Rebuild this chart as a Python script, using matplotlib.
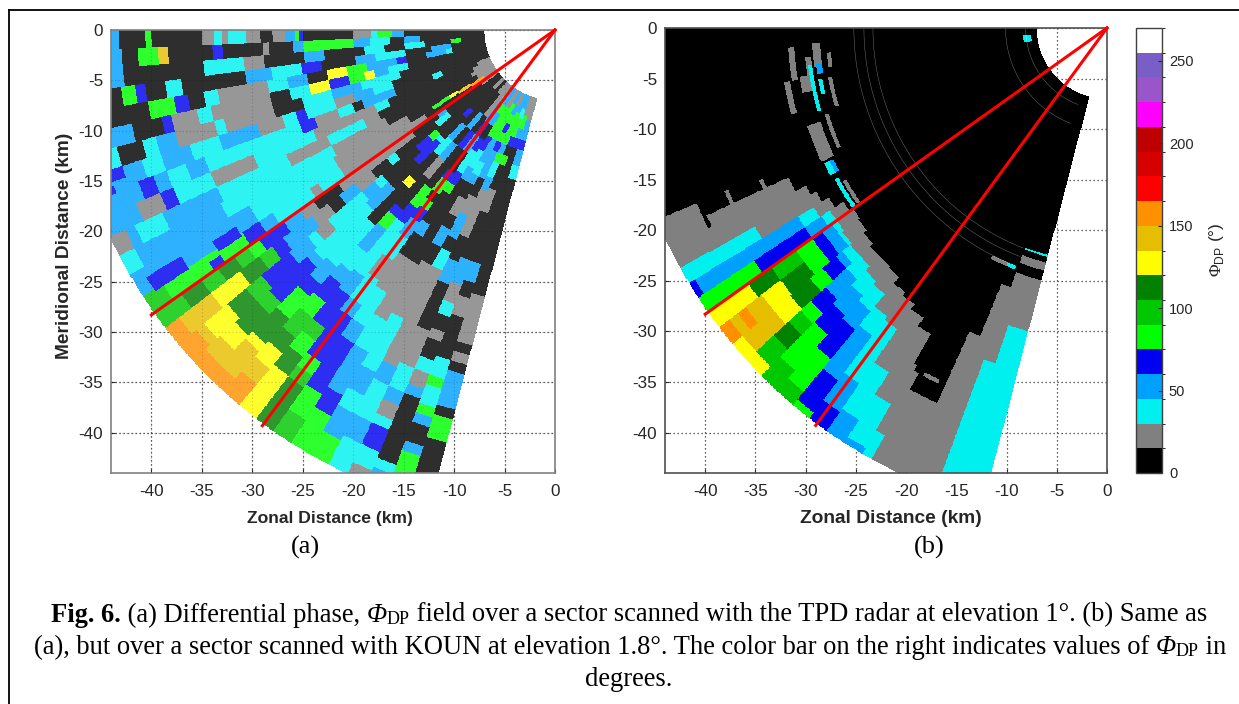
import numpy as np
import matplotlib
matplotlib.use('Agg')
import matplotlib.pyplot as plt
from matplotlib.colors import ListedColormap, BoundaryNorm, to_rgb
from matplotlib.lines import Line2D

plt.rcParams['font.family'] = ['Liberation Sans', 'DejaVu Sans']
plt.rcParams['axes.unicode_minus'] = False
plt.rcParams['mathtext.fontset'] = 'custom'
plt.rcParams['mathtext.rm'] = 'Liberation Serif'
plt.rcParams['mathtext.sf'] = 'Liberation Sans'

# color scale, one color per 15 deg class
phi_colors = ['#000000', '#808080', '#00F0F0', '#00A0FF', '#0000F0', '#00FF00', '#00C800',
              '#008200', '#FFFF00', '#E6BE00', '#FF9000', '#FF0000', '#D60000', '#BE0000',
              '#FF00FF', '#9955C9', '#795EC8', '#FFFFFF']
phi_bounds = np.arange(0, 271, 15)
phi_ticks = [0, 50, 100, 150, 200, 250]
dist_ticks = [-40, -35, -30, -25, -20, -15, -10, -5, 0]
dist_ticks_y = [0, -5, -10, -15, -20, -25, -30, -35, -40]

# sector limits (km, deg from west towards south)
r_inner = 7.0
r_outer = 48.6
az_max = 75.3

# red lines, end points of the sector boundaries
line_x = [[0, -40], [0, -29]]
line_y = [[0, -28.3], [0, -39.3]]

# panel a: azimuth edges, then for each azimuth (class, range where it ends)
az_edges_a = [0, 2.5, 5, 7.5, 10, 12.5, 15, 17.5, 20, 22.5, 25, 27.5, 30, 33, 35.3, 37.5, 40,
              42.5, 45, 47.5, 50, 52.5, 55, 57.5, 60, 62.5, 65, 67.5, 70, 72.5, 75.3]
runs_a = [
    [(0,15),(3,16.3),(5,17.7),(2,18.3),(1,20.1),(0,25),(4,25.4),(5,25.9),(3,26.9),(1,28),(0,29.2),(1,30.7),(2,32.5),(1,33.1),(2,33.8),(1,35.1),(0,40),(5,40.7),(0,43.3),(3,50)],
    [(0,13.5),(3,15),(0,16.5),(2,18.5),(3,20),(5,25),(3,26),(0,28.5),(1,29),(0,33),(4,34),(0,38.5),(9,39.5),(5,41.5),(0,43),(3,50)],
    [(0,9.5),(5,10.5),(0,13),(2,15),(0,17),(2,19),(0,23),(3,25),(0,29),(1,31),(2,35),(0,43),(3,50)],
    [(0,10.5),(3,12.5),(0,15),(2,18),(3,20),(0,23.5),(4,25.5),(2,28.5),(3,31),(0,37.5),(2,39),(0,41),(4,42),(5,43.5),(0,50)],
    [(0,10.5),(2,11),(3,13),(0,15),(4,16),(3,19),(5,21),(8,23),(0,25),(3,27),(2,29),(1,34),(2,35.5),(0,37),(4,38.5),(5,41),(0,50)],
    [(0,15),(2,17),(3,18.5),(8,19.5),(5,21),(4,23),(8,25),(2,27),(0,29),(1,35),(2,36.5),(1,39),(4,40),(0,43),(3,50)],
    [(0,16),(2,20),(3,23),(2,26),(0,29),(1,34),(2,35),(1,39),(3,41),(2,42.5),(0,45),(2,50)],
    [(0,17),(2,19),(3,21),(1,23),(2,26),(4,27),(2,28.5),(1,31),(3,35),(2,38),(3,41),(2,43),(3,50)],
    [(0,12),(2,13),(0,17),(3,20.5),(0,21.5),(2,23),(1,25.5),(4,27),(2,37),(3,39),(2,41),(3,42.5),(4,44),(3,50)],
    [(1,8.5),(0,18),(2,19.5),(1,26),(2,32.5),(1,37),(2,41),(4,42.5),(1,45),(3,50)],
    [(1,9),(0,19.5),(1,21),(2,25),(1,29.5),(2,37),(3,43),(2,46),(3,47),(1,50)],
    [(1,9.5),(0,19),(1,25),(2,37.5),(3,47),(2,50)],
    [(1,9),(0,17),(1,25.5),(2,35),(3,50)],
    [(1,9),(0,15.5),(1,25.5),(2,28),(1,29),(2,33.5),(3,35),(4,37),(5,46.5),(6,50)],
    [(1,9),(0,13.5),(3,14.5),(0,17.5),(1,26.5),(0,29.5),(1,31),(3,33),(4,36),(5,37.5),(6,39),(7,41),(6,43),(7,45.5),(6,50)],
    [(0,13.5),(2,15),(0,20),(2,21),(0,23),(1,25),(3,27),(0,28.5),(1,30.5),(3,34),(4,35.5),(6,37),(7,39.5),(8,43),(9,47),(10,50)],
    [(0,15.5),(5,16.5),(4,18),(0,22.5),(2,23.5),(3,25),(2,29.5),(1,31),(2,32),(3,34.5),(4,38),(6,40),(7,42.5),(8,45.5),(9,46.5),(10,50)],
    [(1,8.5),(0,11.5),(4,12.5),(0,15.5),(2,16),(4,19),(0,22.5),(3,25.5),(2,32.5),(3,33.5),(4,38.5),(6,40),(7,43),(8,45),(9,47),(10,50)],
    [(0,13),(3,15),(2,17),(0,20.5),(8,21.5),(0,26.5),(2,32),(3,34.5),(4,36),(5,39),(7,42.5),(8,43.5),(9,47),(10,50)],
    [(1,8.5),(0,11),(3,13),(0,15),(3,17),(1,19.5),(0,23.5),(4,24.5),(5,26),(3,29),(2,31.5),(3,33),(4,35.5),(5,37.5),(6,40),(7,42),(8,44),(9,46),(10,50)],
    [(1,11),(0,13),(4,15),(0,20),(5,22.5),(4,24.5),(2,31),(3,33.5),(4,37.5),(6,39),(5,41),(7,43.5),(8,50)],
    [(2,9),(3,11.5),(4,13),(3,15),(0,17.5),(4,18.5),(5,20),(0,21),(5,22),(4,23.5),(3,25.5),(2,28),(1,30.5),(2,33.5),(3,35),(4,40.5),(5,42),(6,43.5),(7,50)],
    [(3,9),(5,10),(3,11.5),(0,13),(4,14.5),(2,17),(4,18.5),(5,19.5),(0,23),(3,24.5),(0,27),(1,31),(2,35),(3,37),(4,43),(5,46),(6,50)],
    [(1,9),(5,12.5),(4,14),(2,16),(3,17.5),(0,27),(1,33.5),(2,37),(3,42),(4,44.5),(5,50)],
    [(3,8.5),(5,12.5),(3,15),(2,16.5),(3,17.5),(0,19),(1,21),(0,22.5),(3,24.5),(0,26.5),(1,32.5),(2,38.5),(3,41),(2,43),(3,46),(5,50)],
    [(1,8.5),(3,9.5),(5,10.5),(4,11.5),(5,12.5),(4,13.5),(3,16.5),(0,18.5),(1,20.5),(3,23),(0,24.5),(2,26.5),(1,37),(3,39),(2,43),(3,45.5),(2,50)],
    [(3,9),(5,12.5),(3,13.5),(5,14.5),(2,16),(3,17.5),(1,22.5),(0,25),(3,27.5),(0,32.5),(1,36.5),(2,39),(3,40.5),(1,42),(2,43),(4,45.5),(2,47.5),(1,50)],
    [(3,8.5),(2,9.5),(5,11.5),(4,12.5),(0,13.5),(5,14.5),(0,17),(1,19.5),(0,24.5),(3,27),(1,29),(2,30.5),(0,32),(1,33),(0,35),(2,36.5),(1,38),(3,39),(0,46),(2,47),(3,50)],
    [(1,9),(5,10.5),(3,11.5),(4,12.5),(0,24.5),(3,26.5),(0,28),(1,30),(0,34.5),(2,36.5),(5,37.5),(2,39.5),(5,40.5),(3,41.5),(0,43.5),(3,44.5),(5,50)],
    [(1,9.5),(3,11.5),(4,12.5),(3,14),(2,15.5),(0,27.5),(1,32.5),(0,33.5),(1,34.5),(0,35.5),(3,39),(0,40),(5,42.5),(0,50)],
]
# small features narrower than one azimuth: r0, r1, az0, az1, class
arcs_a = [
    (43.5, 47.5, 31.2, 33.2, 4), (37.2, 40, 31.7, 33.5, 4), (40, 41.5, 34, 35.3, 4),
    (8.5, 10, 33, 35, 10), (10, 11.5, 32.5, 34, 9), (11.5, 12.5, 32, 33.5, 8), (12.5, 14.5, 32, 33.5, 5),
    (45, 47, 17.5, 19, 4), (46.5, 48.5, 19.5, 20.5, 4),
]

# panel b
az_edges_b = [0, 23, 25, 27.5, 29.3, 31.2, 33.3, 35.3, 37.5, 40, 42.5, 45, 47.5, 50, 52.5, 55,
              57.5, 60, 61.3, 63, 65.5, 67.5, 69.5, 71.5, 75.3]
runs_b = [
    [(0,50)],
    [(0,44.5),(1,50)],
    [(0,35),(1,50)],
    [(0,33.9),(1,50)],
    [(0,33.2),(1,40.2),(2,50)],
    [(0,32.5),(1,34.2),(2,36),(3,48),(4,50)],
    [(0,31.5),(1,33),(2,34),(3,36),(4,42),(5,50)],
    [(0,31),(1,33),(2,33.7),(3,34.9),(4,36),(5,38),(6,41),(7,43.8),(8,50)],
    [(0,31.2),(1,33.2),(2,33.7),(3,34.8),(4,36),(5,38),(7,41),(8,43.5),(9,45.5),(10,46.5),(9,47.5),(10,50)],
    [(0,31.7),(1,33.4),(2,34.5),(3,35.3),(4,37),(5,38.7),(7,41.2),(8,43.5),(9,47.5),(8,50)],
    [(0,32),(1,33.5),(2,35.2),(3,38),(4,40),(5,41.5),(6,43),(7,45),(6,47.5),(8,50)],
    [(0,32),(1,34),(2,36),(3,38.7),(4,41.3),(5,46),(6,50)],
    [(0,32.2),(1,34.5),(2,36.7),(3,39),(4,42.8),(5,47),(6,50)],
    [(0,33),(1,36),(2,38.5),(3,44),(4,48),(5,50)],
    [(0,33.5),(1,36.4),(2,43),(3,46.5),(4,50)],
    [(0,34),(1,40.5),(2,46),(3,48.6),(4,50)],
    [(0,35),(1,43),(2,48),(3,50)],
    [(0,38.5),(1,46),(2,50)],
    [(0,40.8),(1,50)],
    [(0,40.8),(1,50)],
    [(0,33),(1,50)],
    [(0,27.5),(1,50)],
    [(0,23.2),(2,23.5),(0,24),(1,24.8),(0,25.8),(1,35),(2,50)],
    [(0,23.2),(2,23.5),(0,24),(1,24.8),(0,25.8),(1,31),(2,50)],
]
arcs_b = [
    (31.3, 31.8, 3.6, 9.5, 1), (28.6, 29.4, 3, 7.5, 1), (28.7, 29.3, 7, 9, 3), (28.8, 29.2, 10, 13, 2),
    (27.6, 28, 5, 8, 1), (27.8, 28.2, 10, 16, 1), (29.6, 30.2, 5.5, 9.5, 1), (29.6, 30, 7, 12, 2),
    (29.7, 30.1, 11, 16, 2), (30, 31, 9, 12, 1), (32, 32.6, 9.4, 15.3, 1), (30, 31.5, 18, 25, 1),
    (29, 29.4, 17, 24, 1), (30.5, 31.3, 25.5, 28, 2), (30.3, 30.7, 25.5, 28, 3), (30.7, 31.1, 29, 35, 2),
    (30, 30.4, 30, 35, 1), (7.7, 8.3, 5, 10, 2), (25.3, 25.7, 63.4, 69, 1), (25.3, 25.7, 67, 69, 2),
    (44, 44.4, 25, 26.5, 0), (41, 41.4, 23, 25, 1), (37.4, 37.8, 23.5, 25, 1), (38.6, 39, 61.5, 64.5, 1),
    (37.3, 37.7, 60.5, 62, 0), (38.5, 39, 60.5, 62, 0),
]

# white hairline rings inside the black area of panel b
rings_b = [8.1, 10.1, 23.3, 24.2, 25.2]

# caption text, pieces of (text, kind)
caption_1 = [('Fig. 6.', 'bold'), (' (a) Differential phase, ', 'plain'), ('Φ', 'ital'), ('DP', 'sub'),
             (' field over a sector scanned with the TPD radar at elevation 1°. (b) Same as', 'plain')]
caption_2 = [('(a), but over a sector scanned with KOUN at elevation 1.8°. The color bar on the right indicates values of ', 'plain'),
             ('Φ', 'ital'), ('DP', 'sub'), (' in', 'plain')]
caption_3 = [('degrees.', 'plain')]


def sector_mesh(az_edges, runs, arcs):
    az = np.linspace(0, az_max, 302)
    r = np.arange(r_inner, r_outer + 0.01, 0.2)
    az_c = 0.5 * (az[:-1] + az[1:])
    r_c = 0.5 * (r[:-1] + r[1:])
    z = np.zeros((len(az_c), len(r_c)))
    for i, a in enumerate(az_c):
        row = runs[min(np.searchsorted(az_edges, a) - 1, len(runs) - 1)]
        ends = [e for _, e in row]
        lev = [c for c, _ in row]
        idx = np.clip(np.searchsorted(ends, r_c, side='right'), 0, len(lev) - 1)
        z[i] = np.array(lev)[idx]
    for r0, r1, a0, a1, c in arcs:
        z[np.ix_((az_c >= a0) & (az_c <= a1), (r_c >= r0) & (r_c <= r1))] = c
    aa, rr = np.meshgrid(np.radians(az), r, indexing='ij')
    return -rr * np.cos(aa), -rr * np.sin(aa), z * 15 + 7.5


def px_axes(left, top, right, bottom):
    return fig.add_axes([left / 1239, 1 - bottom / 704, (right - left) / 1239, (bottom - top) / 704])


def style_axes(ax, label_x, label_y, label_size, spine_color):
    ax.set_xlim(-44, 0)
    ax.set_ylim(-44, 0)
    ax.set_xticks(dist_ticks)
    ax.set_yticks(dist_ticks_y)
    ax.set_axisbelow(True)
    ax.grid(True, color='#303030', linestyle=(0, (1, 2.2)), linewidth=0.9)
    ax.tick_params(direction='in', length=3, width=0.8, labelsize=12.3, colors='#262626')
    ax.tick_params(axis='x', pad=8)
    ax.tick_params(axis='y', pad=5.5)
    for s in ax.spines.values():
        s.set_color(spine_color)
        s.set_linewidth(1.2)
    ax.set_xlabel('Zonal Distance (km)', fontsize=label_size, fontweight='bold', color='#262626')
    ax.xaxis.set_label_coords(label_x, label_y)
    for lx, ly in zip(line_x, line_y):
        ax.plot(lx, ly, color='#FF0000', linewidth=2.2, zorder=5, clip_on=False)


def caption_line(pieces, center, y):
    # lay the pieces out one after the other, so one line can mix bold, italic and subscript
    rend = fig.canvas.get_renderer()
    made = []
    total = 0
    for txt, kind in pieces:
        t = fig.text(0, 1 - y / 704, txt, family='Liberation Serif', color='black', va='center_baseline',
                     fontsize=13 if kind == 'sub' else 19.1,
                     fontweight='bold' if kind == 'bold' else 'normal',
                     fontstyle='italic' if kind == 'ital' else 'normal')
        w = t.get_window_extent(rend).width
        made.append((t, w, kind))
        total += w
    x = center - total / 2
    for t, w, kind in made:
        t.set_x(x / 1239)
        if kind == 'sub':
            t.set_y(1 - (y + 5) / 704)
        x += w


fig = plt.figure(figsize=(12.39, 7.04), dpi=100)
cmap = ListedColormap(phi_colors)
norm = BoundaryNorm(phi_bounds, cmap.N)
# panel a has the same classes, washed out towards white
washed = [tuple(0.82 * c + 0.18 for c in to_rgb(col)) for col in phi_colors]
cmap_a = ListedColormap(washed)

# panel a
ax1 = px_axes(111, 30, 555, 473)
X, Y, Z = sector_mesh(az_edges_a, runs_a, arcs_a)
ax1.pcolormesh(X, Y, Z, cmap=cmap_a, norm=norm, antialiased=False, linewidth=0)
style_axes(ax1, 0.493, -0.085, 12.6, '#808080')
# the grid shows faintly through the field
ax1.vlines(dist_ticks[:-1], -44, 0, colors='black', linestyles=(0, (1, 2.2)), linewidth=0.8, alpha=0.2, zorder=3)
ax1.hlines(dist_ticks_y[1:], -44, 0, colors='black', linestyles=(0, (1, 2.2)), linewidth=0.8, alpha=0.2, zorder=3)
ax1.set_ylabel('Meridional Distance (km)', fontsize=13.8, fontweight='bold', color='#262626')
ax1.yaxis.set_label_coords(-0.086, 0.513)

# panel b
ax2 = px_axes(665, 28, 1107, 473)
X, Y, Z = sector_mesh(az_edges_b, runs_b, arcs_b)
mesh = ax2.pcolormesh(X, Y, Z, cmap=cmap, norm=norm, antialiased=False, linewidth=0)
style_axes(ax2, 0.51, -0.083, 13.8, '#505050')
for rr in rings_b:
    t = np.radians(np.linspace(0, 69, 200))
    ax2.plot(-rr * np.cos(t), -rr * np.sin(t), color='white', linewidth=0.3, alpha=0.5)

# color bar
cax = px_axes(1136, 28, 1162, 473)
cb = fig.colorbar(mesh, cax=cax, ticks=phi_ticks, spacing='proportional')
cb.ax.tick_params(direction='in', length=3, width=0.8, labelsize=10.5, colors='#262626', pad=5)
cb.outline.set_edgecolor('#404040')
cb.outline.set_linewidth(1.0)
fig.text(1217 / 1239, 1 - 250 / 704, r'$\Phi_{\mathsf{DP}}$ (°)', rotation=90, ha='center', va='center',
         fontsize=12.5, color='#262626')

# panel letters and caption
fig.text(305 / 1239, 1 - 547 / 704, '(a)', family='Liberation Serif', fontsize=19, ha='center', va='center')
fig.text(929 / 1239, 1 - 547 / 704, '(b)', family='Liberation Serif', fontsize=19, ha='center', va='center')
caption_line(caption_1, 629, 612)
caption_line(caption_2, 630, 644)
caption_line(caption_3, 629, 676)

# figure frame, open at the bottom and right
fig.add_artist(Line2D([8.5 / 1239, 8.5 / 1239], [0, 1 - 9.5 / 704], transform=fig.transFigure, color='black', linewidth=1.3))
fig.add_artist(Line2D([8.5 / 1239, 1], [1 - 9.5 / 704, 1 - 9.5 / 704], transform=fig.transFigure, color='black', linewidth=1.3))

fig.savefig('out.png', dpi=100)
